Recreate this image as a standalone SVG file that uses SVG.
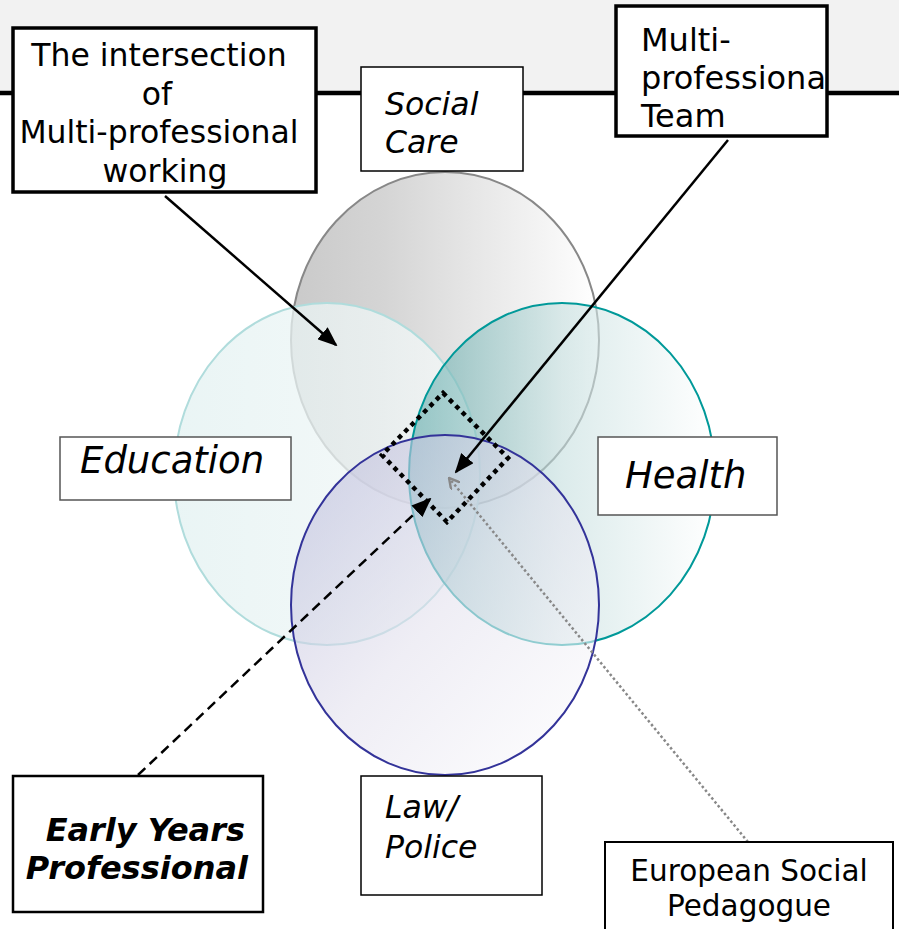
<svg xmlns="http://www.w3.org/2000/svg" width="899" height="929" viewBox="0 0 899 929">
<style>
  text { font-family: "DejaVu Sans", Verdana, sans-serif; fill: #000; }
  .box { fill: #fff; stroke: #000; stroke-width: 1.5; }
  .thick { fill: #fff; stroke: #000; stroke-width: 3.5; }
  .it { font-style: italic; }
</style>
<defs>
  <linearGradient id="gSoc" x1="0" y1="0" x2="1" y2="0">
    <stop offset="0" stop-color="#c4c4c4"/>
    <stop offset="0.3" stop-color="#d0d0d0"/>
    <stop offset="1" stop-color="#ffffff"/>
  </linearGradient>
  <linearGradient id="gEdu" x1="0" y1="0" x2="1" y2="0">
    <stop offset="0" stop-color="#e2f1f1"/>
    <stop offset="1" stop-color="#f6f9f9"/>
  </linearGradient>
  <linearGradient id="gHea" x1="0" y1="0" x2="1" y2="0">
    <stop offset="0" stop-color="#5aa8a8"/>
    <stop offset="0.5" stop-color="#c4dede"/>
    <stop offset="1" stop-color="#ffffff"/>
  </linearGradient>
  <linearGradient id="gLaw" x1="0" y1="0" x2="1" y2="1">
    <stop offset="0" stop-color="#b4b4d8"/>
    <stop offset="0.5" stop-color="#e4e2ee"/>
    <stop offset="1" stop-color="#ffffff"/>
  </linearGradient>
  <marker id="ah" viewBox="0 0 10 10" refX="9" refY="5" markerWidth="20" markerHeight="16" orient="auto" markerUnits="userSpaceOnUse" preserveAspectRatio="none">
    <path d="M0,0 L10,5 L0,10 z" fill="#000"/>
  </marker>
  <marker id="ahOpen" viewBox="0 0 10 10" refX="9" refY="5" markerWidth="12" markerHeight="12" orient="auto" markerUnits="userSpaceOnUse">
    <path d="M0,0 L9,5 L0,10" fill="none" stroke="#888" stroke-width="2"/>
  </marker>
</defs>

<rect x="0" y="0" width="899" height="93" fill="#f2f2f2"/>
<rect x="0" y="93" width="899" height="836" fill="#fff"/>
<line x1="0" y1="93" x2="899" y2="93" stroke="#000" stroke-width="4.5"/>

<g id="circles">
  <g id="c-social"><ellipse cx="445" cy="340" rx="154" ry="168" fill="url(#gSoc)" stroke="#888" stroke-width="2" fill-opacity="0.9"/></g>
  <g id="c-education"><ellipse cx="327" cy="474" rx="153" ry="171" fill="url(#gEdu)" fill-opacity="0.75" stroke="#b0dcdc" stroke-width="2"/></g>
  <g id="c-health"><ellipse cx="562" cy="474" rx="153" ry="171" fill="url(#gHea)" fill-opacity="0.6" stroke="#009999" stroke-width="2"/></g>
  <g id="c-law"><ellipse cx="445" cy="605" rx="154" ry="170" fill="url(#gLaw)" fill-opacity="0.6" stroke="#333399" stroke-width="2"/></g>
</g>

<g id="diamond">
  <polygon points="443,393 508,458 447,522 382,455" fill="none" stroke="#000" stroke-width="4.5" stroke-dasharray="4.5 4.5"/>
</g>

<g id="connectors">
  <line x1="165" y1="196" x2="336" y2="345" stroke="#000" stroke-width="2.5" marker-end="url(#ah)"/>
  <line x1="728" y1="140" x2="456" y2="472" stroke="#000" stroke-width="2.5" marker-end="url(#ah)"/>
  <line x1="138" y1="775" x2="430" y2="499" stroke="#000" stroke-width="2.5" stroke-dasharray="10 6" marker-end="url(#ah)"/>
  <line x1="748" y1="842" x2="449" y2="478" stroke="#888" stroke-width="2.5" stroke-dasharray="2.5 2.5" marker-end="url(#ahOpen)"/>
</g>

<g id="n-intersection">
  <rect class="thick" x="13" y="28" width="303" height="164"/>
  <text font-size="31.5" text-anchor="middle">
    <tspan x="164" y="66">The intersection</tspan>
    <tspan x="162" y="105">of</tspan>
    <tspan x="164" y="143">Multi-professional</tspan>
    <tspan x="165" y="182">working</tspan>
  </text>
</g>

<g id="n-socialcare">
  <rect class="box" x="361" y="67" width="162" height="104"/>
  <text class="it" font-size="31.5"><tspan x="385" y="115">Social</tspan><tspan x="385" y="153">Care</tspan></text>
</g>

<g id="n-team">
  <rect class="thick" x="616" y="6" width="211" height="130"/>
  <text font-size="32"><tspan x="641" y="51">Multi-</tspan><tspan x="641" y="89">professiona</tspan><tspan x="641" y="127">Team</tspan></text>
</g>

<g id="n-education">
  <rect x="60" y="437" width="231" height="63" fill="#fff" stroke="#555" stroke-width="1.5"/>
  <text class="it" font-size="37" x="80" y="473">Education</text>
</g>

<g id="n-health">
  <rect x="598" y="437" width="179" height="78" fill="#fff" stroke="#555" stroke-width="1.5"/>
  <text class="it" font-size="37" x="625" y="488">Health</text>
</g>

<g id="n-law">
  <rect class="box" x="361" y="776" width="181" height="119"/>
  <text class="it" font-size="31.5"><tspan x="385" y="818">Law/</tspan><tspan x="385" y="858">Police</tspan></text>
</g>

<g id="n-eyp">
  <rect x="13" y="776" width="250" height="136" fill="#fff" stroke="#000" stroke-width="2.5"/>
  <text font-size="32" font-weight="bold" font-style="italic" text-anchor="end"><tspan x="245" y="841">Early Years</tspan><tspan x="248" y="879">Professional</tspan></text>
</g>

<g id="n-esp">
  <rect x="605" y="842" width="288" height="95" fill="#fff" stroke="#000" stroke-width="2"/>
  <text font-size="29.5" text-anchor="middle"><tspan x="749" y="881">European Social</tspan><tspan x="749" y="916">Pedagogue</tspan></text>
</g>
</svg>
